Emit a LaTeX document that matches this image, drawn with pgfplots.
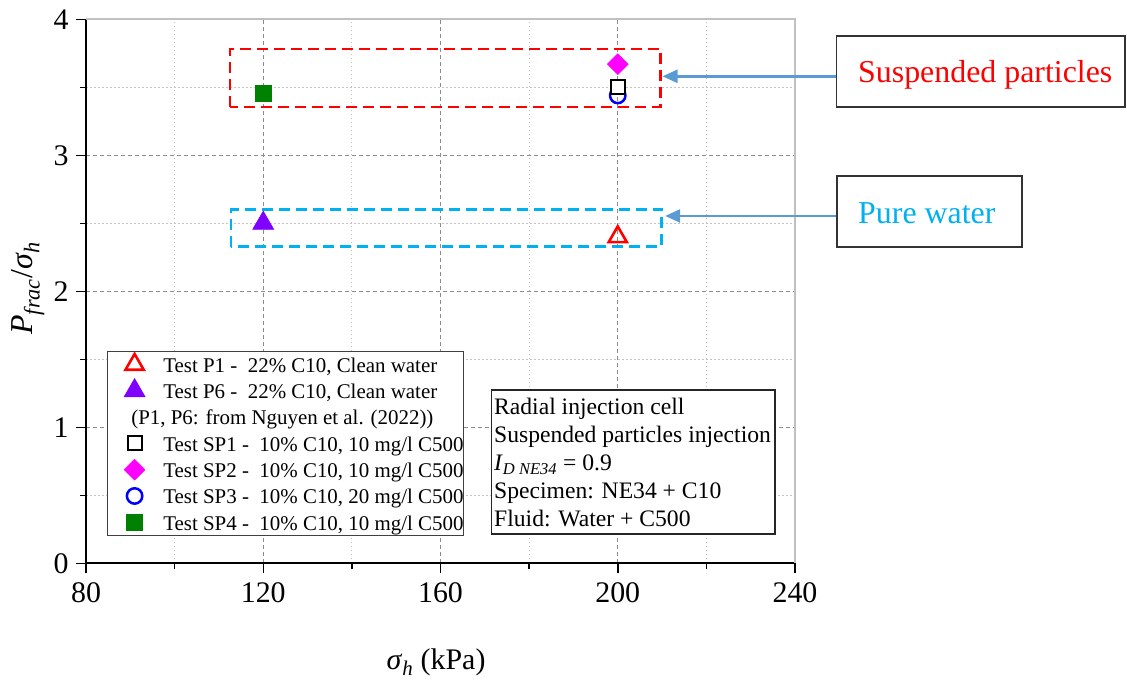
\documentclass[border=0pt]{standalone}
\usepackage{pgfplots}
\pgfplotsset{compat=1.18}
\usepackage{fontspec}
\setmainfont{Liberation Serif}
\usetikzlibrary{arrows.meta}
\definecolor{cRed}{RGB}{255,0,0}
\definecolor{cPurple}{RGB}{128,0,255}
\definecolor{cMag}{RGB}{255,0,255}
\definecolor{cBlue}{RGB}{0,0,255}
\definecolor{cGreen}{RGB}{0,128,0}
\definecolor{cCyan}{RGB}{0,176,240}
\definecolor{cArrow}{RGB}{91,155,213}
\definecolor{cGrid}{RGB}{140,140,140}
\definecolor{cMinor}{RGB}{195,195,195}
\definecolor{cFrame}{RGB}{192,192,192}
\begin{document}
\begin{tikzpicture}
\begin{axis}[
  scale only axis, width=709bp, height=544bp,
  xmin=80, xmax=240, ymin=0, ymax=4,
  xtick={80,120,160,200,240}, ytick={0,1,2,3,4},
  minor x tick num=1, minor y tick num=1,
  grid=both,
  major grid style={cGrid, line width=0.9bp, dash pattern=on 4bp off 3bp},
  minor grid style={cMinor, line width=0.9bp, dash pattern=on 1.5bp off 2.5bp},
  axis x line*=bottom, axis y line*=left,
  axis line style={black, line width=2bp},
  xtick pos=bottom, ytick pos=left,
  tick align=outside, major tick length=10bp, minor tick length=6bp,
  every tick/.style={black, line width=1.5bp},
  /pgf/number format/assume math mode=true,
  xticklabel style={font=\fontsize{30}{30}\selectfont, yshift=-6bp},
  yticklabel style={font=\fontsize{30}{30}\selectfont, xshift=-4bp},
  xlabel={\textit{σ}\textsubscript{\textit{h}} (kPa)},
  xlabel style={font=\fontsize{30}{30}\selectfont, at={(axis description cs:0.4937,-0.1814)}, anchor=center},
  ylabel={\textit{P}\textsubscript{\textit{frac}}/\textit{σ}\textsubscript{\textit{h}}},
  ylabel style={font=\fontsize{32}{32}\selectfont, at={(axis description cs:-0.0818,0.506)}, anchor=center, rotate=0},
  clip=false,
  legend cell align=left,
  legend image code/.code={\path[draw=none,fill=none] (0bp,-5bp) rectangle (56bp,5bp); \draw[#1, only marks] plot coordinates {(27.3bp,0bp)};},
  legend style={at={(axis description cs:0.0292,0.3908)}, anchor=north west,
    draw=black!75, line width=1.2bp, fill=white, inner sep=0pt,
    column sep=0pt, row sep=0pt, font=\fontsize{21}{26}\selectfont,
    nodes={inner sep=0pt, text height=21bp, text depth=5.3bp}},
]
% bounding frame of the whole picture
\path (axis cs:60.592,4.142) rectangle (axis cs:314.92,-0.8507);
% top and right frame lines
\draw[cFrame, line width=2bp] (rel axis cs:0,1) -- (rel axis cs:1,1) -- (rel axis cs:1,0);
% dashed group rectangles
\draw[cRed, line width=2.5bp, dash pattern=on 11bp off 6bp] (axis cs:112.5,3.357) rectangle (axis cs:209.7,3.782);
\draw[cCyan, line width=2.5bp, dash pattern=on 11bp off 6bp] (axis cs:112.7,2.328) rectangle (axis cs:209.9,2.603);
% SP3 drawn underneath SP1
\addplot[forget plot, only marks, mark=o, draw=cBlue, line width=2.5bp, mark size=7.7bp] coordinates {(200,3.44)};
\addplot[only marks, mark=triangle, draw=cRed, line width=2.6bp, mark size=10.5bp] coordinates {(200,2.40)};
\addlegendentry{Test P1 -\ \ 22\% C10, Clean water}
\addplot[only marks, mark=triangle*, draw=cPurple, fill=cPurple, line width=0.8bp, mark size=12bp] coordinates {(120,2.50)};
\addlegendentry{Test P6 -\ \ 22\% C10, Clean water}
\addlegendimage{empty legend}
\addlegendentry{\hspace*{-32bp}(P1, P6: from Nguyen et al. (2022))}
\addplot[only marks, mark=square*, draw=black, fill=white, line width=2.2bp, mark size=7bp] coordinates {(200,3.50)};
\addlegendentry{Test SP1 -\ \ 10\% C10, 10 mg/l C500}
\addplot[only marks, mark=square*, mark options={rotate=45}, draw=cMag, fill=cMag, line width=0.5bp, mark size=7.4bp] coordinates {(200,3.67)};
\addlegendentry{Test SP2 -\ \ 10\% C10, 10 mg/l C500}
\addlegendimage{only marks, mark=o, draw=cBlue, line width=2.5bp, mark size=7.7bp}
\addlegendentry{Test SP3 -\ \ 10\% C10, 20 mg/l C500}
\addplot[only marks, mark=square*, draw=cGreen, fill=cGreen, line width=0.5bp, mark size=8bp] coordinates {(120,3.46)};
\addlegendentry{Test SP4 -\ \ 10\% C10, 10 mg/l C500}
% arrows and callout boxes
\draw[cArrow, line width=2.5bp, -{Triangle[length=15bp, width=13bp]}] (axis cs:249.4,3.581) -- (axis cs:210.1,3.581);
\draw[cArrow, line width=2.5bp, -{Triangle[length=15bp, width=13bp]}] (axis cs:249.5,2.554) -- (axis cs:210.7,2.554);
\draw[black!80, line width=1.5bp, fill=white] (axis cs:249.4,3.357) rectangle (axis cs:314.5,3.879);
\draw[black!80, line width=1.5bp, fill=white] (axis cs:249.5,2.326) rectangle (axis cs:291.2,2.848);
\node[anchor=base west, inner sep=0pt, text=cRed, font=\fontsize{32}{32}\selectfont] at (axis cs:254.22,3.539) {Suspended particles};
\node[anchor=base west, inner sep=0pt, text=cCyan, font=\fontsize{32}{32}\selectfont] at (axis cs:254.22,2.502) {Pure water};
% info box
\draw[black!85, line width=1.3bp, fill=white] (axis cs:171.55,0.2154) rectangle (axis cs:235.49,1.274);
\node[anchor=base west, inner sep=0pt, font=\fontsize{23.7}{23.7}\selectfont] at (axis cs:172.07,1.0956) {Radial injection cell};
\node[anchor=base west, inner sep=0pt, font=\fontsize{23.7}{23.7}\selectfont] at (axis cs:172.07,0.889) {Suspended particles injection};
\node[anchor=base west, inner sep=0pt, font=\fontsize{23.7}{23.7}\selectfont] at (axis cs:172.07,0.682) {\textit{I}\textsubscript{\textit{D NE34}} = 0.9};
\node[anchor=base west, inner sep=0pt, font=\fontsize{23.7}{23.7}\selectfont] at (axis cs:172.07,0.4757) {Specimen: NE34 + C10};
\node[anchor=base west, inner sep=0pt, font=\fontsize{23.7}{23.7}\selectfont] at (axis cs:172.07,0.269) {Fluid: Water + C500};
\end{axis}
\end{tikzpicture}
\end{document}
